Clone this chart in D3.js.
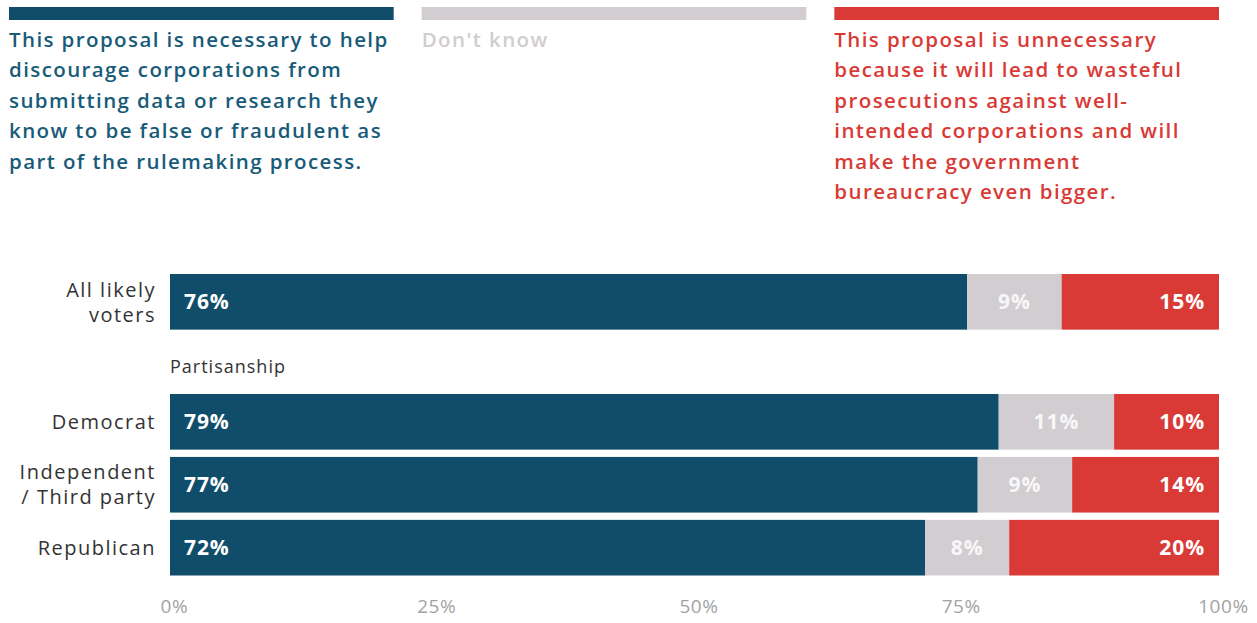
<!DOCTYPE html>
<html>
<head>
<meta charset="utf-8">
<script src="https://cdn.jsdelivr.net/npm/d3@7"></script>
<style>
  html, body { margin: 0; padding: 0; background: #ffffff; }
  svg { display: block; }
  text { font-family: "Open Sans", "Lato", sans-serif; }
</style>
</head>
<body>
<svg id="chart" width="1257" height="623"></svg>
<script>
// Response options, in stacking order
const responses = ["necessary", "dontKnow", "unnecessary"];
const responseColors = ["#0f4d6a", "#d1cdd0", "#d93a35"];
const legendTextColors = ["#185b79", "#d1cdd0", "#d93a35"];
const legendTexts = [
  ["This proposal is necessary to help", "discourage corporations from", "submitting data or research they", "know to be false or fraudulent as", "part of the rulemaking process."],
  ["Don't know"],
  ["This proposal is unnecessary", "because it will lead to wasteful", "prosecutions against well-", "intended corporations and will", "make the government", "bureaucracy even bigger."]
];

// Groups (rows) and their label lines
const totalRow = ["All likely voters"];
const partyRows = ["Democrat", "Independent / Third party", "Republican"];
const rowLabelLines = {
  "All likely voters": ["All likely", "voters"],
  "Democrat": ["Democrat"],
  "Independent / Third party": ["Independent", "/ Third party"],
  "Republican": ["Republican"]
};
const sectionLabel = "Partisanship";

// Shares (%) per row, same order as totalRow.concat(partyRows)
const necessary   = [76, 79, 77, 72];
const dontKnow    = [9, 11, 9, 8];
const unnecessary = [15, 10, 14, 20];

const tickValues = [0, 25, 50, 75, 100];

const svg = d3.select("#chart");

const x = d3.scaleLinear().domain([0, 100]).range([170, 1219]);
const yTotal = d3.scaleBand().domain(totalRow).range([274, 329.5]).paddingInner(0);
const yParty = d3.scaleBand().domain(partyRows).range([394, 575.5]).paddingInner(0.116);
const yOf = r => (totalRow.includes(r) ? yTotal(r) : yParty(r));
const bw = yParty.bandwidth();

const rows = totalRow.concat(partyRows).map((name, i) => ({
  name,
  values: { necessary: necessary[i], dontKnow: dontKnow[i], unnecessary: unnecessary[i] }
}));

const stacked = d3.stack().keys(responses)(rows.map(r => ({ name: r.name, ...r.values })));

// Legend: colour strip plus wrapped description for each response
const legend = svg.append("g");
const legendX = d3.scaleBand().domain(responses).range([9, 1219 + 28]).paddingInner(0);
responses.forEach((key, i) => {
  const gx = legendX(key);
  const w = legendX.bandwidth() - 28;
  legend.append("rect")
    .attr("x", gx).attr("y", 7).attr("width", w).attr("height", 13)
    .attr("fill", responseColors[i]);
  const t = legend.append("text")
    .attr("x", gx).attr("y", 47)
    .attr("fill", legendTextColors[i])
    .attr("font-size", 20.5).attr("font-weight", 600)
    .attr("letter-spacing", 1.4);
  legendTexts[i].forEach((line, j) => {
    t.append("tspan").attr("x", gx).attr("dy", j === 0 ? 0 : 30.4).text(line);
  });
});

// Stacked bars
const layers = svg.append("g").selectAll("g")
  .data(stacked).join("g")
  .attr("fill", (d, i) => responseColors[i]);

layers.selectAll("rect")
  .data(d => d.map(s => ({ s, name: s.data.name })))
  .join("rect")
  .attr("x", d => x(d.s[0]))
  .attr("y", d => yOf(d.name))
  .attr("width", d => x(d.s[1]) - x(d.s[0]))
  .attr("height", bw);

// Value labels inside the segments
const labels = svg.append("g")
  .attr("font-size", 21).attr("font-weight", 700).attr("fill", "#ffffff")
  .attr("letter-spacing", 0.9);
stacked.forEach((layer, i) => {
  layer.forEach(s => {
    const name = s.data.name;
    const value = s[1] - s[0];
    let lx, anchor;
    if (i === 0) { lx = x(s[0]) + 14; anchor = "start"; }
    else if (i === 1) { lx = (x(s[0]) + x(s[1])) / 2; anchor = "middle"; }
    else { lx = x(s[1]) - 14; anchor = "end"; }
    labels.append("text")
      .attr("x", lx).attr("y", yOf(name) + bw / 2)
      .attr("dy", "0.36em")
      .attr("text-anchor", anchor)
      .attr("opacity", i === 1 ? 0.85 : 1)
      .text(value + "%");
  });
});

// Row labels, one text element per line
const rowLabels = svg.append("g")
  .attr("font-size", 20).attr("fill", "#333333").attr("text-anchor", "end")
  .attr("letter-spacing", 1.5);
rows.forEach(r => {
  const lines = rowLabelLines[r.name];
  const cy = yOf(r.name) + bw / 2;
  lines.forEach((line, j) => {
    rowLabels.append("text")
      .attr("x", 156)
      .attr("y", cy + (j - (lines.length - 1) / 2) * 25)
      .attr("dy", "0.36em")
      .text(line);
  });
});

// Section heading
svg.append("text")
  .attr("x", x(0)).attr("y", 373)
  .attr("font-size", 18).attr("fill", "#333333")
  .attr("letter-spacing", 1)
  .text(sectionLabel);

// Bottom axis (labels only)
const axis = svg.append("g")
  .attr("transform", "translate(0,599)")
  .call(d3.axisBottom(x).tickValues(tickValues).tickFormat(d => d + "%").tickSize(0).tickPadding(0));
axis.select(".domain").remove();
axis.selectAll("text")
  .attr("font-family", "Lato, \"Open Sans\", sans-serif")
  .attr("font-weight", 400)
  .attr("font-size", 19).attr("fill", "#a3a3a3")
  .attr("letter-spacing", 0.6)
  .attr("dy", "0.71em")
  .attr("dx", 4);
</script>
</body>
</html>
